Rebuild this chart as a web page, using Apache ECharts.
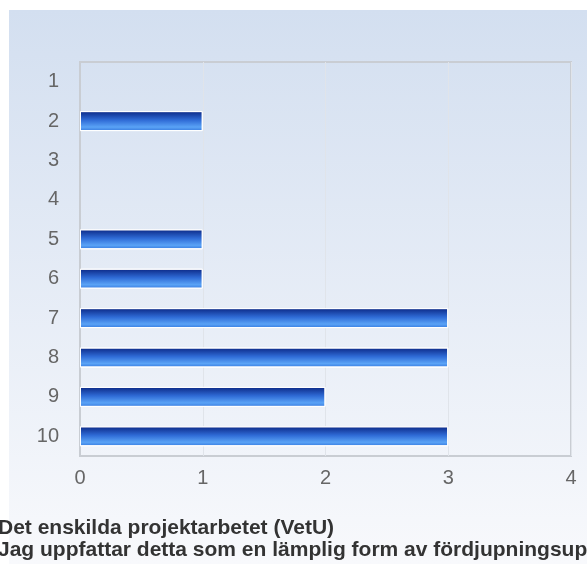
<!DOCTYPE html>
<html lang="sv">
  <head>
    <meta charset="UTF-8" />
    <script src="https://cdn.jsdelivr.net/npm/echarts@6/dist/echarts.min.js"></script>
    <style>
      html, body { margin: 0; padding: 0; background: #fff; }
      #main { width: 587px; height: 564px; }
    </style>
  </head>
  <body>
    <div id="main"></div>
    <script>
      const categories = ["1", "2", "3", "4", "5", "6", "7", "8", "9", "10"];
      const counts = [0, 1, 0, 0, 1, 1, 3, 3, 2, 3];
      const xTicks = [0, 1, 2, 3, 4];
      const titleLines = [
        "Det enskilda projektarbetet (VetU)",
        "Jag uppfattar detta som en lämplig form av fördjupningsuppgift"
      ];

      const myChart = echarts.init(document.getElementById("main"));

      const barFill = new echarts.graphic.LinearGradient(0, 0, 0, 1, [
        { offset: 0, color: "#0b2784" },
        { offset: 0.45, color: "#2f6bd6" },
        { offset: 0.8, color: "#5aa3f6" },
        { offset: 1, color: "#3478de" },
      ]);

      myChart.setOption({
        backgroundColor: "#fff",
        graphic: [
          {
            type: "rect",
            z: -10,
            silent: true,
            shape: { x: 9, y: 10, width: 578, height: 554 },
            style: {
              fill: new echarts.graphic.LinearGradient(0, 0, 0, 1, [
                { offset: 0, color: "#d3dff0" },
                { offset: 1, color: "#f8f9fc" },
              ]),
            },
          },
          {
            type: "text",
            left: -2,
            top: 517,
            style: {
              text: titleLines.join("\n"),
              font: "bold 21px 'Liberation Sans', Arial, sans-serif",
              lineHeight: 22,
              fill: "#333",
            },
          },
        ],
        grid: {
          left: 80,
          right: 16,
          top: 62,
          bottom: 108,
          show: true,
          borderColor: "#c9cdd3",
          borderWidth: 2,
          backgroundColor: "transparent",
        },
        xAxis: {
          type: "value",
          min: xTicks[0],
          max: xTicks[xTicks.length - 1],
          interval: 1,
          axisLine: { show: false },
          axisTick: { show: false },
          splitLine: { lineStyle: { color: "#e0e4ea", width: 1 } },
          axisLabel: {
            margin: 12,
            color: "#666",
            fontSize: 20,
            fontFamily: "'Liberation Sans', Arial, sans-serif",
          },
        },
        yAxis: {
          type: "category",
          inverse: true,
          data: categories,
          axisLine: { show: true, lineStyle: { color: "#c9cdd3", width: 2 } },
          axisTick: { show: false },
          splitLine: { show: false },
          axisLabel: {
            margin: 21,
            color: "#666",
            fontSize: 20,
            fontFamily: "'Liberation Sans', Arial, sans-serif",
          },
        },
        series: [
          {
            type: "bar",
            data: counts.map((v) => ({
              value: v,
              itemStyle: v === 0 ? { borderWidth: 0 } : undefined,
            })),
            barWidth: 20,
            itemStyle: {
              color: barFill,
              borderColor: "#fff",
              borderWidth: 1,
            },
            silent: true,
          },
        ],
      });
    </script>
  </body>
</html>
